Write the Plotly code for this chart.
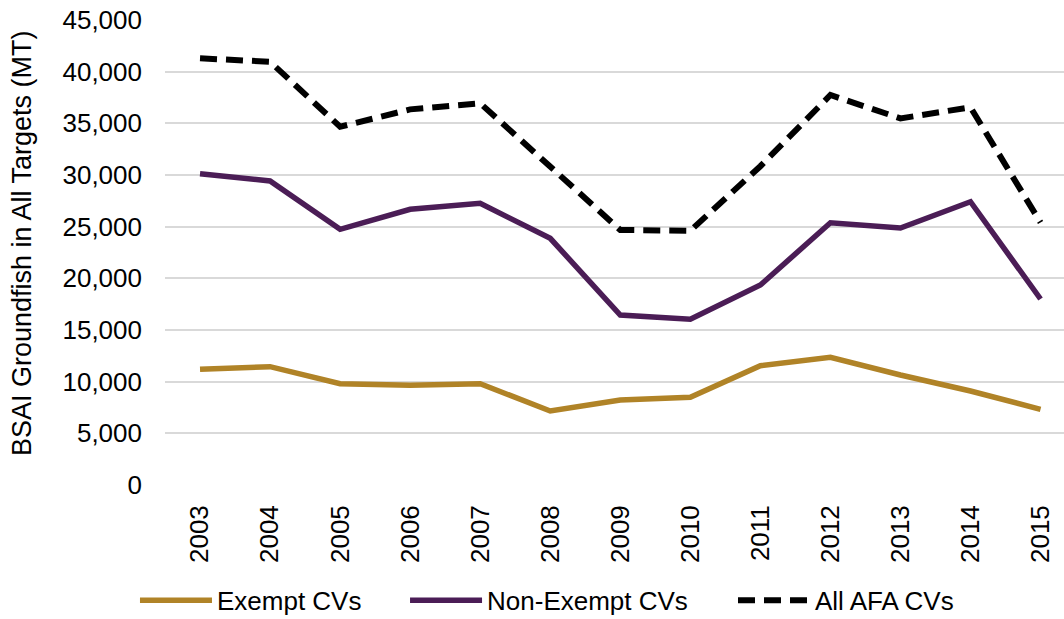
import plotly.graph_objects as go

# Annual BSAI groundfish catch (metric tons) by AFA catcher-vessel group
years = ["2003", "2004", "2005", "2006", "2007", "2008", "2009",
         "2010", "2011", "2012", "2013", "2014", "2015"]
exempt_cvs = [11195, 11450, 9800, 9650, 9800, 7160, 8225,
              8485, 11545, 12355, 10645, 9100, 7325]
non_exempt_cvs = [30125, 29420, 24740, 26680, 27260, 23870, 16450,
                  16035, 19350, 25380, 24870, 27415, 18000]
all_afa_cvs = [41290, 40960, 34670, 36350, 36940, 30900, 24680,
               24610, 30850, 37740, 35480, 36550, 25400]

y_ticks = [0, 5000, 10000, 15000, 20000, 25000, 30000, 35000, 40000, 45000]

FONT = "Liberation Sans, Arial, sans-serif"
idx = list(range(len(years)))

fig = go.Figure()
fig.add_trace(go.Scatter(
    x=idx, y=exempt_cvs, mode="lines", name="Exempt CVs", legend="legend",
    line=dict(color="#B08327", width=5.5),
))
fig.add_trace(go.Scatter(
    x=idx, y=non_exempt_cvs, mode="lines", name="Non-Exempt CVs", legend="legend2",
    line=dict(color="#4B1D56", width=5.5),
))
fig.add_trace(go.Scatter(
    x=idx, y=all_afa_cvs, mode="lines", name="All AFA CVs", legend="legend3",
    line=dict(color="#000000", width=6, dash="17px,9px"),
))

legend_common = dict(
    orientation="h", y=-0.248, yanchor="middle", xanchor="left",
    font=dict(family=FONT, size=26), itemwidth=72,
    bgcolor="rgba(0,0,0,0)",
)

fig.update_layout(
    width=1064, height=619,
    margin=dict(l=165, r=0, t=20, b=134, autoexpand=False),
    paper_bgcolor="white", plot_bgcolor="white",
    font=dict(family=FONT, size=26, color="#000000"),
    showlegend=True,
    legend=dict(x=-0.0334, **legend_common),
    legend2=dict(x=0.267, **legend_common),
    legend3=dict(x=0.6318, **legend_common),
    xaxis=dict(
        range=[-0.5, 12.335], tickmode="array", tickvals=idx, ticktext=years,
        tickangle=-90, showgrid=False, zeroline=False, showline=False,
        ticks="", ticklabelstandoff=14, fixedrange=True, automargin=False,
    ),
    yaxis=dict(
        range=[0, 45000], tickmode="array", tickvals=y_ticks,
        ticktext=[f"{v:,}" for v in y_ticks],
        showgrid=True, gridcolor="#D9D9D9", gridwidth=1.5,
        zeroline=False, showline=False, ticks="", ticklabelstandoff=22,
        fixedrange=True, automargin=False,
    ),
    annotations=[dict(
        text="BSAI Groundfish in All Targets (MT)", textangle=-90,
        xref="paper", yref="paper", x=-0.159, y=0.5204,
        xanchor="center", yanchor="middle", showarrow=False,
        font=dict(family=FONT, size=27, color="#000000"),
    )],
)

fig.write_html("out.html")
